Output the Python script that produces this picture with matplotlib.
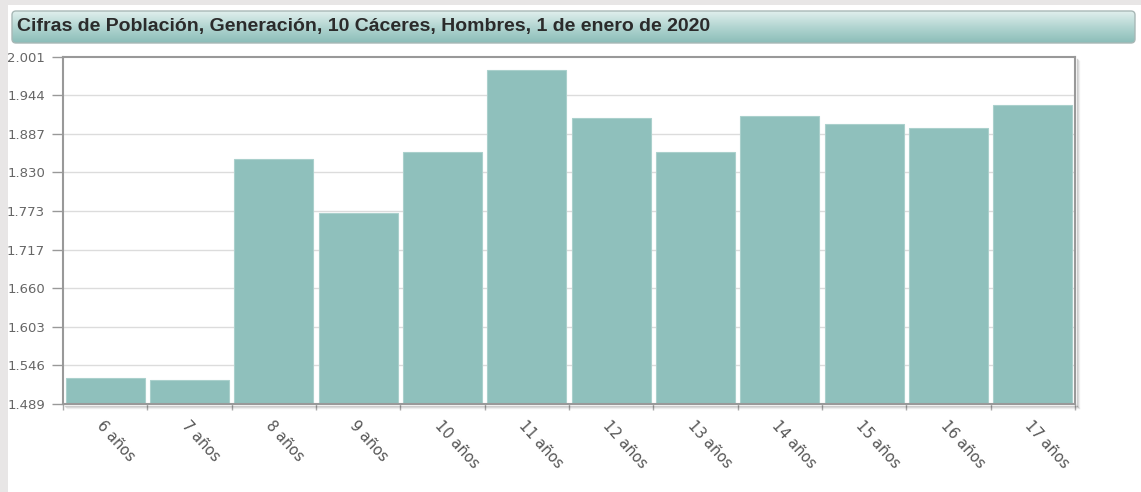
import numpy as np
import matplotlib
matplotlib.use("Agg")
import matplotlib.pyplot as plt
from matplotlib.patches import Rectangle, FancyBboxPatch
from matplotlib.colors import LinearSegmentedColormap
from matplotlib.lines import Line2D

# ---- data ----
title = "Cifras de Población, Generación, 10 Cáceres, Hombres, 1 de enero de 2020"
categories = ["6 años", "7 años", "8 años", "9 años", "10 años", "11 años",
              "12 años", "13 años", "14 años", "15 años", "16 años", "17 años"]
values = [1528, 1525, 1850, 1770, 1860, 1981, 1911, 1861, 1914, 1901, 1895, 1930]
y_min, y_max = 1489, 2001
ytick_labels = ["1.489", "1.546", "1.603", "1.660", "1.717", "1.773",
                "1.830", "1.887", "1.944", "2.001"]

W, H = 1141, 492
fig = plt.figure(figsize=(W / 100, H / 100), dpi=100)
fig.patch.set_facecolor("white")

def fx(px):
    return px / W

def fy(py):
    return 1 - py / H

# outer gray page strips
fig.add_artist(Rectangle((0, 0), fx(8), 1, transform=fig.transFigure,
                         facecolor="#e8e6e6", edgecolor="none", zorder=0))
fig.add_artist(Rectangle((0, fy(5)), 1, 5 / H, transform=fig.transFigure,
                         facecolor="#e8e6e6", edgecolor="none", zorder=0))

# ---- title bar with gradient (axes in pixel units) ----
tb_x0, tb_x1, tb_y0, tb_y1 = 12, 1135, 11, 43
tw, th = tb_x1 - tb_x0, tb_y1 - tb_y0
tax = fig.add_axes([fx(tb_x0 - 1), fy(tb_y1 + 1), fx(tw + 2), (th + 2) / H])
tax.set_xlim(-1, tw + 1)
tax.set_ylim(-1, th + 1)
tax.axis("off")
cmap = LinearSegmentedColormap.from_list("tb", ["#8bbdb8", "#b2d5d1", "#e0efed"])
grad = np.linspace(0, 1, 100).reshape(-1, 1)
im = tax.imshow(grad, aspect="auto", extent=[0, tw, 0, th], origin="lower",
                cmap=cmap, interpolation="bilinear")
box = FancyBboxPatch((0, 0), tw, th, boxstyle="round,pad=0,rounding_size=4",
                     facecolor="none", edgecolor="#a8b8b6", linewidth=1.0,
                     clip_on=False)
tax.add_patch(box)
im.set_clip_path(box)
tax.text(5, th / 2 + 0.5, title, ha="left", va="center", fontsize=14,
         fontweight="bold", color="#2b2b2b", family="Liberation Sans")

# ---- plot area ----
left, right, top, bottom = 63, 1075, 56.5, 404
ax = fig.add_axes([fx(left), fy(bottom), fx(right - left), (bottom - top) / H])
x = np.arange(len(categories))
ax.bar(x, values, width=0.94, color="#8fc0bc", edgecolor="#aad0cc",
       linewidth=0.8, zorder=2)
ax.set_xlim(-0.5, len(categories) - 0.5)
ax.set_ylim(y_min, y_max)

yt = np.linspace(y_min, y_max, len(ytick_labels))
ax.set_yticks(yt)
ax.set_yticklabels(ytick_labels, fontsize=9.5, color="#666666",
                   family="DejaVu Sans")
ax.tick_params(axis="y", length=8, width=1, color="#999999", pad=5)
for v in yt[1:-1]:
    ax.axhline(v, color="#dcdcdc", linewidth=1, zorder=1)

# x ticks at boundaries, labels at centers
ax.set_xticks(np.arange(len(categories) + 1) - 0.5)
ax.set_xticklabels([])
ax.tick_params(axis="x", length=4, width=1, color="#aaaaaa")
ax.set_xticks(x, minor=True)
ax.set_xticklabels(categories, minor=True, rotation=-48, ha="left", va="top",
                   rotation_mode="anchor", fontsize=10.5, color="#555555",
                   family="DejaVu Sans")
ax.tick_params(axis="x", which="minor", length=0, pad=10)

for s in ["left", "bottom", "top", "right"]:
    ax.spines[s].set_color("#999999")
    ax.spines[s].set_linewidth(1.5)

# frame shadow (right and bottom)
for i, a in enumerate([0.18, 0.10, 0.05]):
    off = i + 2
    fig.add_artist(Line2D([fx(right + off), fx(right + off)],
                          [fy(bottom + off), fy(top + off)],
                          transform=fig.transFigure, color="black", alpha=a,
                          linewidth=1))
    fig.add_artist(Line2D([fx(left + off), fx(right + off)],
                          [fy(bottom + off), fy(bottom + off)],
                          transform=fig.transFigure, color="black", alpha=a,
                          linewidth=1))

fig.savefig("out.png", dpi=100, facecolor=fig.get_facecolor())
